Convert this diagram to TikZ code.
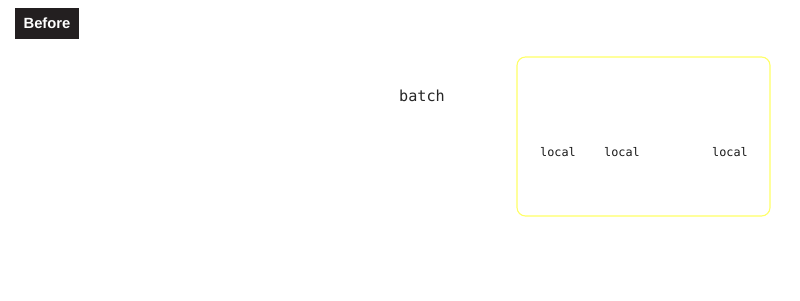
\documentclass[tikz,border=0pt]{standalone}
\usepackage{fontspec}
\setsansfont{Liberation Sans}
\setmonofont{DejaVu Sans Mono}
\usepackage{tikz}
\usetikzlibrary{positioning}
\definecolor{tagdark}{HTML}{231F20}
\definecolor{grpyellow}{HTML}{FFFF66}
\begin{document}
\begin{tikzpicture}[
    x=0.025cm, y=-0.025cm,
    tag/.style={fill=tagdark, text=white, font=\sffamily\bfseries\fontsize{10.5}{12}\selectfont,
                minimum width=1.6cm, minimum height=0.775cm, inner sep=0pt},
    group/.style={draw=grpyellow, line width=0.8pt, rounded corners=6pt},
    big/.style={font=\ttfamily\fontsize{10.8}{12}\selectfont, text=black!85},
    small/.style={font=\ttfamily\fontsize{8.4}{10}\selectfont, text=black!90}
]
    \useasboundingbox (0,0) rectangle (800,301);
    \node[tag] (before) at (47,23.5) {Before};
    \node[big] (batch) at (422,96) {batch};
    \draw[group] (517,57) rectangle (770,216);
    \foreach \nm/\x in {loca/558, locb/622, locc/730}{
        \node[small] (\nm) at (\x,152) {local};
    }
\end{tikzpicture}
\end{document}
